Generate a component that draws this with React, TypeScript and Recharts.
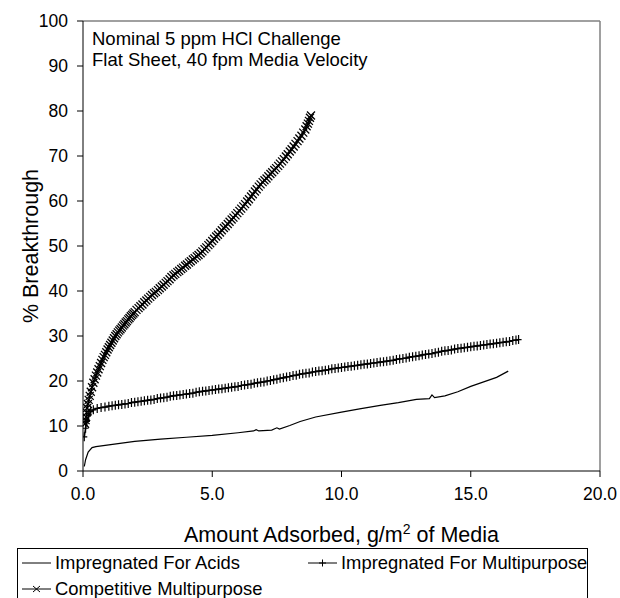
import React from "react";
import { LineChart, Line, XAxis, YAxis, ReferenceLine } from "recharts";

const FONT = '"Liberation Sans", Arial, sans-serif';

// [amount adsorbed g/m2, % breakthrough]
const acidsData: [number, number][] = [
  [0.05, 1.0], [0.1, 2.5], [0.2, 4.2], [0.35, 5.2], [0.5, 5.4], [1.0, 5.8], [2.0, 6.6], [3.0, 7.1],
  [4.0, 7.5], [5.0, 7.9], [6.0, 8.5], [6.6, 8.9], [6.7, 9.2], [6.8, 8.9], [7.3, 9.1], [7.5, 9.6],
  [7.6, 9.3], [8.0, 10.1], [8.4, 11.0], [9.0, 12.0], [10.0, 13.1], [10.7, 13.8], [11.5, 14.6],
  [12.2, 15.2], [12.9, 15.9], [13.4, 16.1], [13.5, 16.9], [13.6, 16.3], [14.0, 16.7], [14.5, 17.6],
  [15.0, 18.8], [15.5, 19.8], [16.0, 20.8], [16.45, 22.2],
];

const multiData: [number, number][] = [
  [0.05, 7.6], [0.1, 9.5], [0.15, 11.0], [0.22, 12.5], [0.3, 13.2], [0.4, 13.6], [0.55, 13.9], [0.7, 14.1],
  [0.85, 14.2], [1.0, 14.4], [1.125, 14.5], [1.25, 14.6], [1.375, 14.7], [1.5, 14.8], [1.625, 14.9],
  [1.75, 15.0], [1.875, 15.2], [2.0, 15.3], [2.125, 15.4], [2.25, 15.5], [2.375, 15.6], [2.5, 15.7],
  [2.625, 15.8], [2.75, 15.9], [2.875, 16.1], [3.0, 16.2], [3.125, 16.3], [3.25, 16.4], [3.375, 16.6],
  [3.5, 16.7], [3.625, 16.8], [3.75, 16.9], [3.875, 17.0], [4.0, 17.1], [4.125, 17.2], [4.25, 17.3],
  [4.375, 17.5], [4.5, 17.6], [4.625, 17.7], [4.75, 17.8], [4.875, 17.9], [5.0, 18.0], [5.125, 18.1],
  [5.25, 18.2], [5.375, 18.3], [5.5, 18.4], [5.625, 18.5], [5.75, 18.6], [5.875, 18.7], [6.0, 18.8],
  [6.125, 19.0], [6.25, 19.1], [6.375, 19.2], [6.5, 19.3], [6.625, 19.5], [6.75, 19.6], [6.875, 19.7],
  [7.0, 19.8], [7.125, 20.0], [7.25, 20.1], [7.375, 20.3], [7.5, 20.4], [7.625, 20.6], [7.75, 20.7],
  [7.875, 20.9], [8.0, 21.0], [8.125, 21.2], [8.25, 21.3], [8.375, 21.5], [8.5, 21.6], [8.625, 21.7],
  [8.75, 21.8], [8.875, 22.0], [9.0, 22.1], [9.125, 22.2], [9.25, 22.3], [9.375, 22.4], [9.5, 22.5],
  [9.625, 22.7], [9.75, 22.8], [9.875, 22.9], [10.0, 23.0], [10.125, 23.1], [10.25, 23.2], [10.375, 23.3],
  [10.5, 23.4], [10.625, 23.5], [10.75, 23.6], [10.875, 23.7], [11.0, 23.8], [11.125, 23.9], [11.25, 24.0],
  [11.375, 24.1], [11.5, 24.2], [11.625, 24.3], [11.75, 24.4], [11.875, 24.5], [12.0, 24.6], [12.125, 24.8],
  [12.25, 24.9], [12.375, 25.0], [12.5, 25.1], [12.625, 25.3], [12.75, 25.4], [12.875, 25.5], [13.0, 25.6],
  [13.125, 25.8], [13.25, 25.9], [13.375, 26.0], [13.5, 26.1], [13.625, 26.3], [13.75, 26.4], [13.875, 26.6],
  [14.0, 26.7], [14.125, 26.8], [14.25, 26.9], [14.375, 27.1], [14.5, 27.2], [14.625, 27.3], [14.75, 27.4],
  [14.875, 27.5], [15.0, 27.6], [15.125, 27.7], [15.25, 27.8], [15.375, 27.9], [15.5, 28.0], [15.625, 28.1],
  [15.75, 28.2], [15.875, 28.3], [16.0, 28.4], [16.125, 28.5], [16.25, 28.6], [16.375, 28.7], [16.5, 28.8],
  [16.625, 29.0], [16.75, 29.1], [16.85, 29.2],
];

const compData: [number, number][] = [
  [0.08, 10.5], [0.1, 11.3], [0.12, 12.0], [0.14, 13.0], [0.16, 14.0], [0.19, 14.9], [0.22, 15.8], [0.26, 16.7],
  [0.3, 17.6], [0.35, 18.6], [0.4, 19.6], [0.45, 20.4], [0.5, 21.2], [0.55, 21.9], [0.6, 22.6], [0.65, 23.3],
  [0.7, 24.0], [0.75, 24.7], [0.8, 25.3], [0.85, 25.8], [0.9, 26.4], [0.95, 27.0], [1.0, 27.5], [1.05, 28.0],
  [1.1, 28.5], [1.15, 29.0], [1.2, 29.5], [1.25, 30.0], [1.3, 30.4], [1.35, 30.8], [1.4, 31.2], [1.45, 31.5],
  [1.5, 31.9], [1.55, 32.3], [1.6, 32.6], [1.65, 33.0], [1.7, 33.3], [1.75, 33.7], [1.8, 34.0], [1.85, 34.4],
  [1.9, 34.7], [1.95, 35.0], [2.0, 35.3], [2.07, 35.8], [2.15, 36.2], [2.22, 36.6], [2.3, 37.0], [2.37, 37.5],
  [2.45, 37.9], [2.52, 38.3], [2.6, 38.7], [2.67, 39.1], [2.75, 39.5], [2.82, 39.8], [2.9, 40.2], [2.97, 40.6],
  [3.05, 41.0], [3.12, 41.4], [3.2, 41.8], [3.27, 42.2], [3.35, 42.6], [3.42, 43.1], [3.5, 43.5], [3.57, 43.8],
  [3.65, 44.2], [3.72, 44.5], [3.8, 44.9], [3.87, 45.2], [3.95, 45.6], [4.02, 45.9], [4.1, 46.3], [4.17, 46.6],
  [4.25, 47.0], [4.32, 47.3], [4.4, 47.7], [4.47, 48.0], [4.55, 48.4], [4.62, 48.8], [4.7, 49.3], [4.77, 49.7],
  [4.85, 50.2], [4.92, 50.6], [5.0, 51.1], [5.07, 51.6], [5.15, 52.1], [5.22, 52.5], [5.3, 53.0], [5.37, 53.5],
  [5.45, 54.0], [5.52, 54.4], [5.6, 54.9], [5.67, 55.4], [5.75, 55.9], [5.82, 56.3], [5.9, 56.8], [5.97, 57.3],
  [6.05, 57.8], [6.12, 58.3], [6.2, 58.8], [6.27, 59.3], [6.35, 59.9], [6.42, 60.4], [6.5, 61.0], [6.57, 61.5],
  [6.65, 62.1], [6.72, 62.6], [6.8, 63.2], [6.87, 63.7], [6.95, 64.2], [7.02, 64.6], [7.1, 65.0], [7.17, 65.5],
  [7.25, 66.0], [7.32, 66.4], [7.4, 66.9], [7.47, 67.3], [7.55, 67.8], [7.62, 68.3], [7.7, 68.8], [7.77, 69.3],
  [7.85, 69.9], [7.92, 70.4], [8.0, 71.0], [8.07, 71.5], [8.15, 72.1], [8.22, 72.7], [8.3, 73.3], [8.37, 73.9],
  [8.45, 74.5], [8.52, 75.2], [8.6, 75.9], [8.65, 76.6], [8.7, 77.2], [8.74, 77.8], [8.78, 78.5], [8.82, 79.0],
];

const xTicks = [0, 5, 10, 15, 20];
const yTicks = [0, 10, 20, 30, 40, 50, 60, 70, 80, 90, 100];

const seriesNames = ["Impregnated For Acids", "Impregnated For Multipurpose", "Competitive Multipurpose"];

const toPoints = (pts: [number, number][]) => pts.map(([x, y]) => ({ x, y }));

const PlusDot = (props: any) => {
  const { cx, cy, index } = props;
  if (cx == null || cy == null) return null;
  return <path key={`p-${index}`} d={`M${cx - 3},${cy}H${cx + 3}M${cx},${cy - 4.5}V${cy + 4.5}`} stroke="#000" strokeWidth={1.2} fill="none" />;
};

const CrossDot = (props: any) => {
  const { cx, cy, index } = props;
  if (cx == null || cy == null) return null;
  const s = 4;
  return <path key={`c-${index}`} d={`M${cx - s},${cy - s}L${cx + s},${cy + s}M${cx - s},${cy + s}L${cx + s},${cy - s}`} stroke="#000" strokeWidth={1.3} fill="none" />;
};

const LegendSample = ({ kind }: { kind: "line" | "plus" | "cross" }) => (
  <svg width={30} height={12} style={{ display: "block" }}>
    <line x1={0} y1={6} x2={29} y2={6} stroke="#000" strokeWidth={1} />
    {kind === "plus" && <path d="M11,6H18M14.5,2.5V9.5" stroke="#000" strokeWidth={1} />}
    {kind === "cross" && <path d="M11,3L18,9M11,9L18,3" stroke="#000" strokeWidth={1} />}
  </svg>
);

const legendItem = (left: number, top: number, kind: "line" | "plus" | "cross", name: string) => (
  <div style={{ position: "absolute", left, top, display: "flex", alignItems: "center", height: 20 }}>
    <LegendSample kind={kind} />
    <span style={{ marginLeft: 3, fontSize: 18.4, lineHeight: "20px", whiteSpace: "nowrap" }}>{name}</span>
  </div>
);

export default function App() {
  return (
    <div style={{ position: "absolute", left: 0, top: 0, width: 620, height: 598, background: "#fff", fontFamily: FONT, overflow: "hidden" }}>
      <LineChart width={620} height={598} margin={{ top: 21, right: 20, bottom: 77, left: 0 }}>
        <XAxis
          type="number"
          dataKey="x"
          domain={[0, 20]}
          ticks={xTicks}
          allowDataOverflow
          tickFormatter={(v: number) => v.toFixed(1)}
          tickSize={6}
          tickMargin={11}
          height={50}
          stroke="#000"
          tick={{ fill: "#000", fontSize: 17.5, fontFamily: FONT }}
          label={{
            content: (p: any) => {
              const vb = p.viewBox || {};
              const cx = (vb.x ?? 83) + (vb.width ?? 517) / 2;
              return (
                <text x={cx} y={542} textAnchor="middle" fontSize={21.5} fontFamily={FONT} fill="#000">
                  Amount Adsorbed, g/m
                  <tspan dy={-8} fontSize={14}>2</tspan>
                  <tspan dy={8}> of Media</tspan>
                </text>
              );
            },
          }}
        />
        <YAxis
          type="number"
          domain={[0, 100]}
          ticks={yTicks}
          allowDataOverflow
          width={83}
          tickSize={6}
          tickMargin={9}
          stroke="#000"
          tick={{ fill: "#000", fontSize: 17.5, fontFamily: FONT }}
          label={{
            content: () => (
              <text x={38} y={246} transform="rotate(-90 38 246)" textAnchor="middle" fontSize={21.5} fontFamily={FONT} fill="#000">
                % Breakthrough
              </text>
            ),
          }}
        />
        <ReferenceLine y={100} stroke="#808080" strokeWidth={1.5} />
        <ReferenceLine x={20} stroke="#808080" strokeWidth={1.5} />
        <Line data={toPoints(acidsData)} dataKey="y" name={seriesNames[0]} type="linear" stroke="#000" strokeWidth={1.2} dot={false} isAnimationActive={false} />
        <Line data={toPoints(multiData)} dataKey="y" name={seriesNames[1]} type="linear" stroke="#000" strokeWidth={1.5} dot={PlusDot} isAnimationActive={false} />
        <Line data={toPoints(compData)} dataKey="y" name={seriesNames[2]} type="linear" stroke="#000" strokeWidth={1.5} dot={CrossDot} isAnimationActive={false} />
      </LineChart>

      <div style={{ position: "absolute", left: 92, top: 28, fontSize: 18.5, lineHeight: "21px", color: "#000" }}>
        <div>Nominal 5 ppm HCl Challenge</div>
        <div>Flat Sheet, 40 fpm Media Velocity</div>
      </div>

      <div style={{ position: "absolute", left: 17, top: 548, width: 571, height: 60, border: "1px solid #000", boxSizing: "border-box" }}>
        {legendItem(4, 4, "line", seriesNames[0])}
        {legendItem(290, 4, "plus", seriesNames[1])}
        {legendItem(4, 30, "cross", seriesNames[2])}
      </div>
    </div>
  );
}
